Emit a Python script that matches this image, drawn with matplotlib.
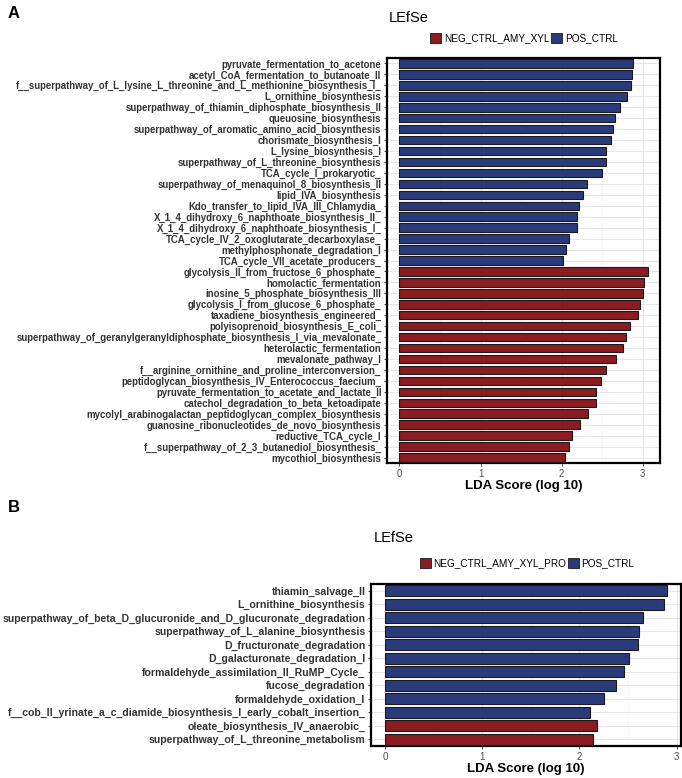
import matplotlib
matplotlib.use("Agg")
import matplotlib.pyplot as plt
from matplotlib.patches import Patch
from matplotlib.ticker import MultipleLocator

# panel A data (top to bottom)
feat_a = [
    "pyruvate_fermentation_to_acetone",
    "acetyl_CoA_fermentation_to_butanoate_II",
    "f__superpathway_of_L_lysine_L_threonine_and_L_methionine_biosynthesis_I_",
    "L_ornithine_biosynthesis",
    "superpathway_of_thiamin_diphosphate_biosynthesis_II",
    "queuosine_biosynthesis",
    "superpathway_of_aromatic_amino_acid_biosynthesis",
    "chorismate_biosynthesis_I",
    "L_lysine_biosynthesis_I",
    "superpathway_of_L_threonine_biosynthesis",
    "TCA_cycle_I_prokaryotic_",
    "superpathway_of_menaquinol_8_biosynthesis_II",
    "lipid_IVA_biosynthesis",
    "Kdo_transfer_to_lipid_IVA_III_Chlamydia_",
    "X_1_4_dihydroxy_6_naphthoate_biosynthesis_II_",
    "X_1_4_dihydroxy_6_naphthoate_biosynthesis_I_",
    "TCA_cycle_IV_2_oxoglutarate_decarboxylase_",
    "methylphosphonate_degradation_I",
    "TCA_cycle_VII_acetate_producers_",
    "glycolysis_II_from_fructose_6_phosphate_",
    "homolactic_fermentation",
    "inosine_5_phosphate_biosynthesis_III",
    "glycolysis_I_from_glucose_6_phosphate_",
    "taxadiene_biosynthesis_engineered_",
    "polyisoprenoid_biosynthesis_E_coli_",
    "superpathway_of_geranylgeranyldiphosphate_biosynthesis_I_via_mevalonate_",
    "heterolactic_fermentation",
    "mevalonate_pathway_I",
    "f__arginine_ornithine_and_proline_interconversion_",
    "peptidoglycan_biosynthesis_IV_Enterococcus_faecium_",
    "pyruvate_fermentation_to_acetate_and_lactate_II",
    "catechol_degradation_to_beta_ketoadipate",
    "mycolyl_arabinogalactan_peptidoglycan_complex_biosynthesis",
    "guanosine_ribonucleotides_de_novo_biosynthesis",
    "reductive_TCA_cycle_I",
    "f__superpathway_of_2_3_butanediol_biosynthesis_",
    "mycothiol_biosynthesis",
]
lda_a = [2.88, 2.87, 2.855, 2.81, 2.72, 2.66, 2.63, 2.61, 2.55, 2.545,
         2.50, 2.31, 2.26, 2.22, 2.19, 2.19, 2.09, 2.05, 2.02,
         3.06, 3.02, 3.00, 2.97, 2.94, 2.84, 2.79, 2.76, 2.67, 2.55,
         2.48, 2.43, 2.42, 2.32, 2.23, 2.13, 2.09, 2.04]
grp_a = ["POS_CTRL"] * 19 + ["NEG_CTRL_AMY_XYL"] * 18

# panel B data
feat_b = [
    "thiamin_salvage_II",
    "L_ornithine_biosynthesis",
    "superpathway_of_beta_D_glucuronide_and_D_glucuronate_degradation",
    "superpathway_of_L_alanine_biosynthesis",
    "D_fructuronate_degradation",
    "D_galacturonate_degradation_I",
    "formaldehyde_assimilation_II_RuMP_Cycle_",
    "fucose_degradation",
    "formaldehyde_oxidation_I",
    "f__cob_II_yrinate_a_c_diamide_biosynthesis_I_early_cobalt_insertion_",
    "oleate_biosynthesis_IV_anaerobic_",
    "superpathway_of_L_threonine_metabolism",
]
lda_b = [2.90, 2.87, 2.65, 2.61, 2.60, 2.51, 2.46, 2.38, 2.25, 2.11, 2.18, 2.14]
grp_b = ["POS_CTRL"] * 10 + ["NEG_CTRL_AMY_XYL_PRO"] * 2

RED = "#8a1c22"
BLUE = "#2a3b7c"
W, H = 682, 778

plt.rcParams["font.family"] = ["Liberation Sans", "DejaVu Sans"]
fig = plt.figure(figsize=(W / 100, H / 100), dpi=100)


def panel(rect, feats, vals, grps, lab_size, bar_h):
    ax = fig.add_axes(rect)
    n = len(feats)
    ys = list(range(n - 1, -1, -1))
    cols = [BLUE if g == "POS_CTRL" else RED for g in grps]
    ax.barh(ys, vals, height=bar_h, color=cols, edgecolor="#1a1a1a",
            linewidth=0.8, zorder=3)
    top = max(vals)
    ax.set_xlim(-0.05 * top, top * 1.05)
    ax.set_ylim(-0.5, n - 0.5)
    ax.set_yticks(ys)
    ax.set_yticklabels(feats, fontsize=lab_size, fontweight="bold", color="#333333")
    ax.xaxis.set_major_locator(MultipleLocator(1))
    ax.xaxis.set_minor_locator(MultipleLocator(0.5))
    ax.grid(which="major", axis="both", color="#e6e6e6", linewidth=0.7, zorder=0)
    ax.grid(which="minor", axis="x", color="#f2f2f2", linewidth=0.5, zorder=0)
    ax.tick_params(axis="x", which="minor", length=0)
    ax.tick_params(axis="both", which="major", length=2.5, width=0.6,
                   color="#333333", pad=1.5)
    ax.tick_params(axis="x", labelsize=7, labelcolor="#4d4d4d")
    for s in ax.spines.values():
        s.set_linewidth(1.6)
        s.set_color("black")
    ax.set_xlabel("LDA Score (log 10)", fontsize=9.5, fontweight="bold", labelpad=1)
    return ax


ax_a = panel([387 / W, 1 - 463 / H, 273 / W, 405 / H], feat_a, lda_a, grp_a, 6.9, 0.78)
ax_b = panel([371 / W, 1 - 746 / H, 310 / W, 162 / H], feat_b, lda_b, grp_b, 7.6, 0.8)

# titles, panel letters and legends
fig.text(8 / W, 1 - 14 / H, "A", fontsize=12, fontweight="bold", va="center")
fig.text(8 / W, 1 - 508 / H, "B", fontsize=12, fontweight="bold", va="center")
fig.text(389 / W, 1 - 18 / H, "LEfSe", fontsize=10.5, va="center")
fig.text(374 / W, 1 - 538 / H, "LEfSe", fontsize=10.5, va="center")


def legend(neg_name, cx, cy):
    handles = [Patch(facecolor=RED, edgecolor="#1a1a1a", linewidth=0.6, label=neg_name),
               Patch(facecolor=BLUE, edgecolor="#1a1a1a", linewidth=0.6, label="POS_CTRL")]
    fig.legend(handles=handles, loc="center", bbox_to_anchor=(cx / W, 1 - cy / H),
               ncol=2, frameon=False, fontsize=7.2, handlelength=1.1,
               handleheight=1.3, handletextpad=0.25, columnspacing=0.2)


legend("NEG_CTRL_AMY_XYL", 524, 38)
legend("NEG_CTRL_AMY_XYL_PRO", 527, 563)

fig.savefig("out.png", dpi=100)
